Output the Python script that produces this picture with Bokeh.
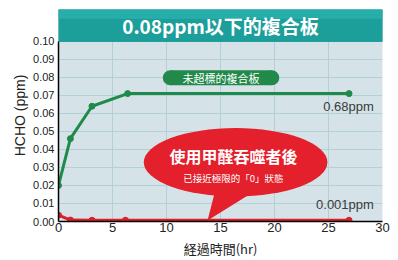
import math
from bokeh.plotting import figure
from bokeh.models import Range1d, FixedTicker, NumeralTickFormatter, Label
from bokeh.embed import file_html
from bokeh.resources import INLINE

# ---- data ----
green_x = [0, 1.1, 3.1, 6.4, 26.9]
green_y = [0.020, 0.046, 0.064, 0.071, 0.071]
red_x = [0, 1.1, 3.1, 6.2, 26.9]
red_y = [0.0035, 0.0008, 0.0007, 0.0007, 0.0007]
x_ticks = [0, 5, 10, 15, 20, 25, 30]
y_ticks = [0.00, 0.01, 0.02, 0.03, 0.04, 0.05, 0.06, 0.07, 0.08, 0.09, 0.10]
title_text = "0.08ppm以下的複合板"
green_tag = "未超標的複合板"
green_end = "0.68ppm"
red_end = "0.001ppm"
bubble_main = "使用甲醛吞噬者後"
bubble_sub = "已接近極限的「0」狀態"
x_label = "経過時間(hr)"
y_label = "HCHO (ppm)"

CJK = "Noto Sans CJK TC"
LAT = "Liberation Sans"

p = figure(width=398, height=260, output_backend="svg", toolbar_location=None,
           x_range=Range1d(0, 30), y_range=Range1d(0, 0.1177),
           min_border_left=58, min_border_right=16, min_border_top=9, min_border_bottom=38)
p.outline_line_color = None
p.background_fill_color = "#d5e3e8"
p.border_fill_color = "white"

p.xaxis.ticker = FixedTicker(ticks=x_ticks)
p.yaxis.ticker = FixedTicker(ticks=y_ticks)
p.yaxis.formatter = NumeralTickFormatter(format="0.00")
p.yaxis.bounds = (0, 0.10)
for ax in (p.xaxis[0], p.yaxis[0]):
    ax.axis_line_color = "black"
    ax.axis_line_width = 1.5
    ax.major_tick_out = 0
    ax.major_tick_in = 0
    ax.minor_tick_out = 0
    ax.minor_tick_in = 0
    ax.major_label_text_color = "#222222"
    ax.major_label_text_font = LAT
    ax.axis_label_text_color = "#222222"
    ax.axis_label_text_font_style = "normal"
p.xaxis.major_label_text_font_size = "13px"
p.yaxis.major_label_text_font_size = "11px"
p.xaxis.major_label_standoff = 1
p.yaxis.major_label_standoff = 4

p.xaxis.axis_label = x_label
p.xaxis.axis_label_text_font = CJK
p.xaxis.axis_label_text_font_size = "13px"
p.xaxis.axis_label_standoff = 4
p.yaxis.axis_label = y_label
p.yaxis.axis_label_text_font = LAT
p.yaxis.axis_label_text_font_size = "14px"
p.yaxis.axis_label_standoff = 2

p.xgrid.ticker = FixedTicker(ticks=[5, 10, 15, 20, 25])
p.ygrid.ticker = FixedTicker(ticks=y_ticks[1:])
p.xgrid.grid_line_color = "#b3cfd8"
p.ygrid.grid_line_color = "#b3cfd8"

# header bar
p.quad(left=[0], right=[30], bottom=[0.10], top=[0.1177], color="#1c9e9a")
p.quad(left=[0], right=[30], bottom=[0.1125], top=[0.1177], color="#27aeab", line_color=None)
p.add_layout(Label(x=15, y=0.1088, text=title_text, text_align="center", text_baseline="middle",
                   text_color="white", text_font=CJK, text_font_style="bold", text_font_size="19px"))

# series
p.line(green_x, green_y, line_color="#1f8a4a", line_width=3)
p.scatter(green_x, green_y, size=6, color="#1f8a4a")
p.line(red_x, red_y, line_color="#dd1f2a", line_width=3)
p.scatter(red_x, red_y, size=6, color="#dd1f2a")

# green tag pill
p.rect(x=[15.05], y=[0.0798], width=[9.4], height=[0.0083], color="#21894a", line_color=None)
p.scatter(x=[15.05 - 4.7, 15.05 + 4.7], y=[0.0798, 0.0798], size=15, color="#21894a", line_color=None)
p.add_layout(Label(x=15.05, y=0.0798, text=green_tag, text_align="center", text_baseline="middle",
                   text_color="white", text_font=CJK, text_font_size="11px"))

# end labels
p.add_layout(Label(x=29.2, y=0.0641, text=green_end, text_align="right", text_baseline="middle",
                   text_color="#3a3a3a", text_font=LAT, text_font_size="13px"))
p.add_layout(Label(x=29.2, y=0.0094, text=red_end, text_align="right", text_baseline="middle",
                   text_color="#3a3a3a", text_font=LAT, text_font_size="13px"))

# red speech bubble
p.patch(x=[13.8, 14.5, 18.2], y=[0.0006, 0.017, 0.017], color="#e3202b", line_color=None)
p.ellipse(x=[16.4], y=[0.0329], width=[17.0], height=[0.038], color="#e3202b", line_color=None)
p.add_layout(Label(x=16.2, y=0.0362, text=bubble_main, text_align="center", text_baseline="middle",
                   text_color="white", text_font=CJK, text_font_style="bold", text_font_size="16px"))
p.add_layout(Label(x=16.2, y=0.0243, text=bubble_sub, text_align="center", text_baseline="middle",
                   text_color="white", text_font=CJK, text_font_size="9.5px"))

open("out.html", "w").write(file_html(p, INLINE))
